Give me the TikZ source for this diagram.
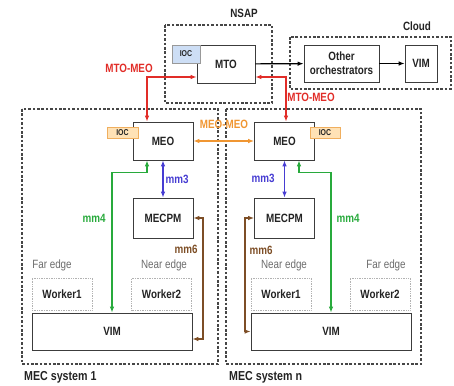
\documentclass[tikz,border=0pt]{standalone}
\usepackage{fontspec}
\setmainfont{Liberation Sans}[FakeStretch=0.82]
\usetikzlibrary{arrows.meta}

\definecolor{linkred}{RGB}{225,45,40}
\definecolor{linkorange}{RGB}{240,150,50}
\definecolor{linkblue}{RGB}{70,60,210}
\definecolor{linkgreen}{RGB}{40,170,60}
\definecolor{linkbrown}{RGB}{125,78,38}
\definecolor{boxgray}{RGB}{60,60,60}
\definecolor{framegray}{RGB}{70,70,70}
\definecolor{iocblue}{RGB}{205,222,245}
\definecolor{iocpeach}{RGB}{255,226,182}
\definecolor{iocedge}{RGB}{240,175,95}
\definecolor{txtgray}{RGB}{35,35,35}

\begin{document}
\begin{tikzpicture}[x=1pt,y=-1pt,
  every node/.style={font=\fontsize{12}{14}\selectfont,text=txtgray},
  box/.style={draw=boxgray,fill=white,line width=0.8pt,inner sep=0pt,font=\fontsize{12}{14}\selectfont\bfseries},
  iocbox/.style={draw=gray!80,line width=0.5pt,inner sep=0pt,font=\fontsize{8.5}{9}\selectfont\bfseries},
  frame/.style={draw=framegray,line width=1.2pt,dash pattern=on 2.6pt off 1.8pt},
  worker/.style={draw=gray!60,densely dotted,line width=0.7pt,inner sep=0pt,minimum width=60pt,minimum height=32pt,font=\fontsize{12}{14}\selectfont\bfseries},
  link/.style={{Latex[length=6pt,width=4.6pt]}-{Latex[length=6pt,width=4.6pt]},line width=1.2pt},
  lbl/.style={inner sep=1pt,font=\fontsize{12}{14}\selectfont\bfseries},
  edgetxt/.style={inner sep=1pt,text=gray!85!black}]
\useasboundingbox (0,0) rectangle (454,385);

% frames
\draw[frame] (165,25) rectangle (272,103);
\draw[frame] (290,37) rectangle (451,89);
\draw[frame] (22,109) rectangle (218,364);
\draw[frame] (226,109) rectangle (421,364);
\node[lbl] (nsap) at (244,13) {NSAP};
\node[lbl] (cloud) at (417,26) {Cloud};
\node[lbl,font=\fontsize{13}{15}\selectfont\bfseries,anchor=west] (sys1) at (23,377) {MEC system 1};
\node[lbl,font=\fontsize{13}{15}\selectfont\bfseries,anchor=west] (sysn) at (228,377) {MEC system n};

% NSAP and cloud
\node[box,minimum width=58pt,minimum height=38pt] (mto) at (226,64) {MTO};
\node[iocbox,fill=iocblue,minimum width=28pt,minimum height=18pt] (iocN) at (186,54) {IOC};
\node[box,minimum width=75pt,minimum height=37pt,align=center] (other) at (341.5,63.5) {Other\\orchestrators};
\node[box,minimum width=32pt,minimum height=37pt] (cvim) at (421,63.5) {VIM};
\draw[-{Latex[length=6pt,width=4.6pt]},line width=1.2pt,black] (mto) -- (other);
\draw[-{Latex[length=6pt,width=4.6pt]},line width=1.2pt,black] (other) -- (cvim);

% MEC system 1
\node[box,minimum width=60pt,minimum height=38pt] (meoA) at (163,141) {MEO};
\node[iocbox,fill=iocpeach,draw=iocedge,minimum width=31pt,minimum height=11pt] (iocA) at (122.5,132.5) {IOC};
\node[box,minimum width=60pt,minimum height=40pt] (mecpmA) at (163,218) {MECPM};
\node[edgetxt] (farA) at (52,265) {Far edge};
\node[edgetxt] (nearA) at (164,265) {Near edge};
\node[worker] (wkA1) at (62,294) {Worker1};
\node[worker] (wkA2) at (161.5,294) {Worker2};
\node[box,minimum width=160pt,minimum height=37pt] (vimA) at (112,331.5) {VIM};

% MEC system n
\node[box,minimum width=60pt,minimum height=38pt] (meoB) at (284.5,141) {MEO};
\node[iocbox,fill=iocpeach,draw=iocedge,minimum width=30pt,minimum height=11pt] (iocB) at (325,132.5) {IOC};
\node[box,minimum width=60pt,minimum height=40pt] (mecpmB) at (284.5,218) {MECPM};
\node[edgetxt] (nearB) at (284,265) {Near edge};
\node[edgetxt] (farB) at (386,265) {Far edge};
\node[worker] (wkB1) at (281,294) {Worker1};
\node[worker] (wkB2) at (380,294) {Worker2};
\node[box,minimum width=160pt,minimum height=37pt] (vimB) at (331,331.5) {VIM};

% reference points
\coordinate (redA) at ([xshift=-16pt]meoA.north);
\coordinate (redB) at ([xshift=1.5pt]meoB.north);
\coordinate (greenA) at ([xshift=-16pt]meoA.south);
\coordinate (greenB) at ([xshift=14.5pt]meoB.south);

% interfaces
\draw[link,linkred] (redA) |- ([yshift=-13pt]mto.west);
\draw[link,linkred] ([yshift=-13pt]mto.east) -| (redB);
\draw[link,linkorange] (meoA) -- (meoB);
\draw[link,linkblue] (meoA) -- (mecpmA);
\draw[link,linkblue] (meoB) -- (mecpmB);
\draw[link,linkgreen] (greenA) -- ++(0,12) -| (vimA.north);
\draw[link,linkgreen] (greenB) -- ++(0,12) -| (vimB.north);
\draw[link,linkbrown] (mecpmA) -- ++(40,0) |- ([yshift=-7.5pt]vimA.east);
\draw[link,linkbrown] (mecpmB) -- ++(-39.5,0) |- (vimB.west);

% interface labels
\node[lbl,text=linkred] (lbRedA) at (129,68) {MTO-MEO};
\node[lbl,text=linkred] (lbRedB) at (311,97) {MTO-MEO};
\node[lbl,text=linkorange] (lbMeo) at (224,124) {MEO-MEO};
\node[lbl,text=linkblue] (lbBlueA) at (177,179) {mm3};
\node[lbl,text=linkblue] (lbBlueB) at (263,178) {mm3};
\node[lbl,text=linkgreen] (lbGreenA) at (94,218) {mm4};
\node[lbl,text=linkgreen] (lbGreenB) at (348,218) {mm4};
\node[lbl,text=linkbrown] (lbBrownA) at (186,249) {mm6};
\node[lbl,text=linkbrown] (lbBrownB) at (261,250) {mm6};
\end{tikzpicture}
\end{document}
